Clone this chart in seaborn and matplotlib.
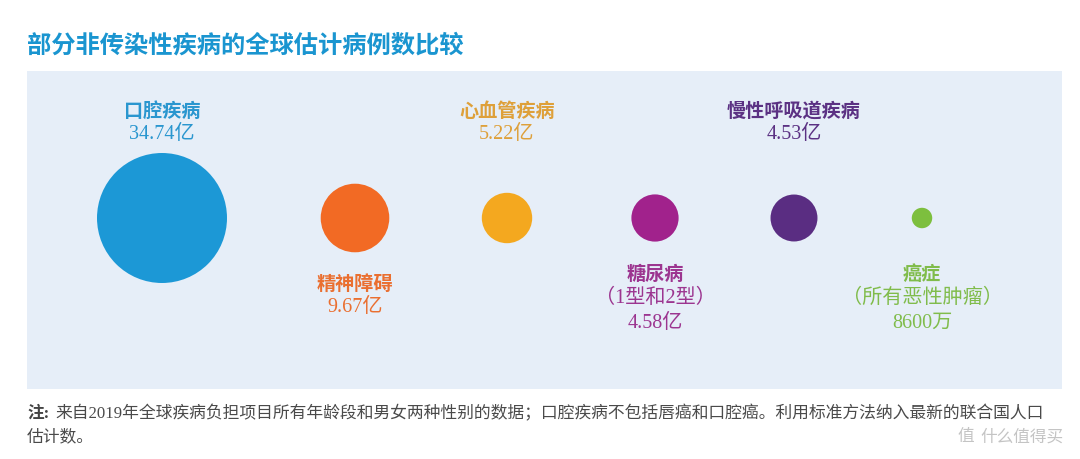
import matplotlib
matplotlib.use("Agg")
import matplotlib.pyplot as plt
import seaborn as sns
import pandas as pd

# ---- data ----
categories = ["口腔疾病", "精神障碍", "心血管疾病", "糖尿病\n（1型和2型）", "慢性呼吸道疾病", "癌症\n（所有恶性肿瘤）"]
cases_yi = [34.74, 9.67, 5.22, 4.58, 4.53, 0.86]          # 单位：亿
value_labels = ["34.74亿", "9.67亿", "5.22亿", "4.58亿", "4.53亿", "8600万"]

title = "部分非传染性疾病的全球估计病例数比较"
note_head = "注:"
note_line1 = "来自2019年全球疾病负担项目所有年龄段和男女两种性别的数据；口腔疾病不包括唇癌和口腔癌。利用标准方法纳入最新的联合国人口"
note_line2 = "估计数。"

# ---- layout / style ----
x_pos = [162, 355, 507, 655, 794, 922]
label_side = ["above", "below", "above", "below", "above", "below"]
bubble_colors = ["#1c98d6", "#f26a24", "#f4a81f", "#a1228c", "#5a2d82", "#7dbf3e"]
label_colors = ["#2a96cf", "#ea6f30", "#dea03a", "#9c3590", "#5b3183", "#80bc4b"]
panel_color = "#e6eef8"
W, H, DPI = 1080, 460, 100

sns.set_theme(style="white")
plt.rcParams["font.family"] = ["Noto Sans CJK SC", "DejaVu Sans"]

fig = plt.figure(figsize=(W / DPI, H / DPI), dpi=DPI)
fig.patch.set_facecolor("white")
px_l, px_r, px_t, px_b = 27, 1062, 72, 390
ax = fig.add_axes([px_l / W, 1 - px_b / H, (px_r - px_l) / W, (px_b - px_t) / H])
ax.set_facecolor(panel_color)
ax.set_xlim(px_l, px_r)
ax.set_ylim(px_b, px_t)
for s in ax.spines.values():
    s.set_visible(False)
ax.set_xticks([])
ax.set_yticks([])

df = pd.DataFrame({"category": categories, "value": cases_yi, "x": x_pos, "y": [219] * len(categories)})

# bubble area proportional to value; biggest radius = 65 px
r_max_pt = 65 * 72 / DPI
s_max = (2 * r_max_pt) ** 2
sns.scatterplot(data=df, x="x", y="y", hue="category", size="value",
                palette=dict(zip(categories, bubble_colors)),
                sizes=(0, s_max), size_norm=(0, max(cases_yi)),
                linewidth=0, legend=False, ax=ax, clip_on=False)
ax.set_xlabel("")
ax.set_ylabel("")

num_family = ["Liberation Serif", "Noto Sans CJK SC"]
for cat, vl, x, side, col in zip(categories, value_labels, x_pos, label_side, label_colors):
    names = cat.split("\n")
    lines = [(n, i > 0) for i, n in enumerate(names)] + [(vl, True)]
    n = len(lines)
    if side == "above":
        ys = [134 - 22.5 * (n - 1 - i) for i in range(n)]
    else:
        if n == 2:
            ys = [284, 307]
        else:
            ys = [274 + 24.5 * i for i in range(n)]
    for (txt, serif), y in zip(lines, ys):
        if serif:
            ax.text(x, y, txt, color=col, fontsize=14.5, ha="center", va="center",
                    family=num_family)
        else:
            ax.text(x, y, txt, color=col, fontsize=13.8, ha="center", va="center",
                    fontweight="bold")

# title
fig.text(27 / W, 1 - 46 / H, title, color="#1a95d0", fontsize=17.5, fontweight="bold",
         ha="left", va="center")

# footnote
note_family = ["Liberation Serif", "Noto Sans CJK SC"]
fig.text(27 / W, 1 - 414 / H, note_head, color="#444444", fontsize=12, fontweight="bold",
         ha="left", va="center", family=note_family)
fig.text(55 / W, 1 - 414 / H, note_line1, color="#4a4a4a", fontsize=12.1,
         ha="left", va="center", family=note_family)
fig.text(27 / W, 1 - 437 / H, note_line2, color="#4a4a4a", fontsize=12.1,
         ha="left", va="center", family=note_family)

# watermark
fig.text(966 / W, 1 - 437 / H, "值", color="#c4c4c4", fontsize=12, ha="center", va="center")
fig.text(980 / W, 1 - 437 / H, "什么值得买", color="#c4c4c4", fontsize=12, ha="left", va="center")

fig.savefig("out.png", dpi=DPI, facecolor="white")
